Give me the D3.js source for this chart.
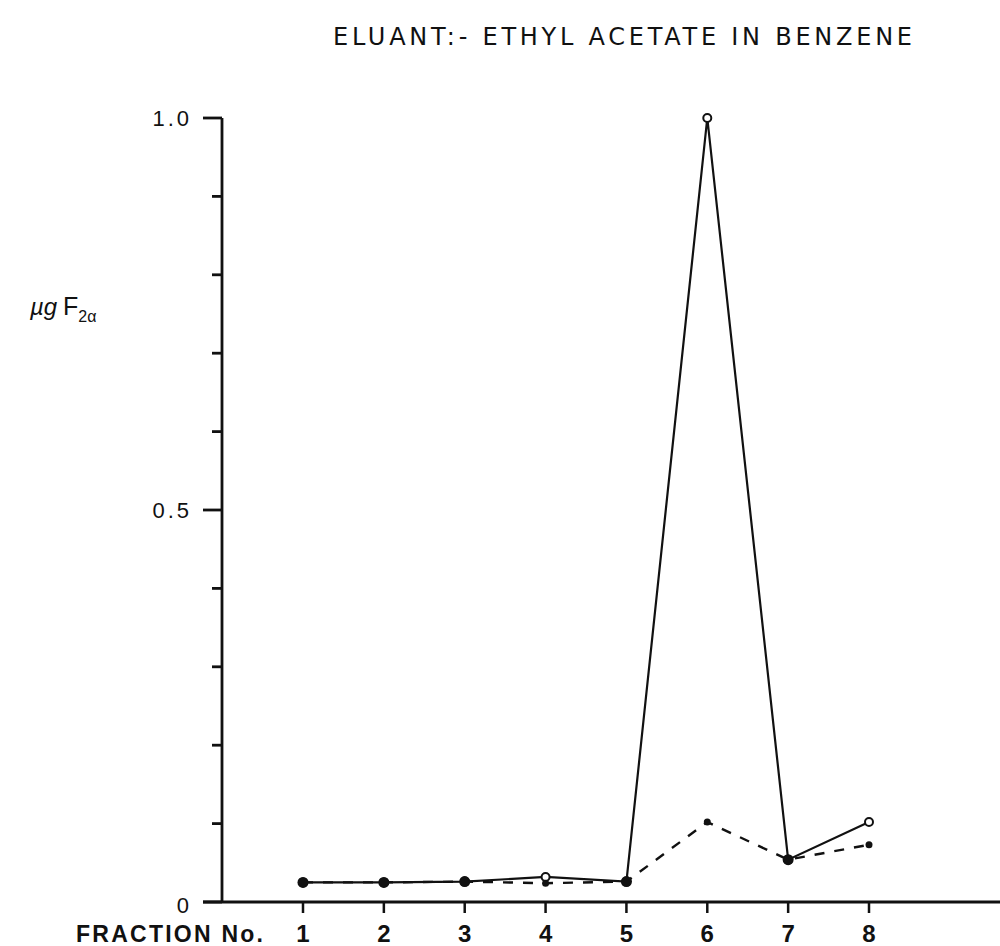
<!DOCTYPE html>
<meta charset="utf-8">
<html>
<head>
    <title>Eluant - Ethyl acetate in benzene</title>
    <script src="https://cdn.jsdelivr.net/npm/d3@7"></script>
</head>
<style>
    *{ margin:0; padding:0;}
    body{ background:#fff;}
    text{ font-family:'Liberation Sans', Arial, sans-serif; fill:#111;}
</style>
<body>
<div id="chartContainer"></div>
<script>
    // values
    var fractions = [1, 2, 3, 4, 5, 6, 7, 8];
    var solidSeries = [0.025, 0.025, 0.026, 0.032, 0.026, 1.0, 0.054, 0.102];
    var dashedSeries = [0.025, 0.025, 0.026, 0.024, 0.026, 0.102, 0.054, 0.073];
    var yTicks = [0, 0.1, 0.2, 0.3, 0.4, 0.5, 0.6, 0.7, 0.8, 0.9, 1.0];
    var yTickLabels = {0: "0", 0.5: "0.5", 1: "1.0"};

    var width = 1000, height = 946;
    var svg = d3.select("#chartContainer").append("svg")
        .attr("width", width).attr("height", height);

    var x = d3.scaleLinear().domain([1, 8]).range([303, 869]);
    var y = d3.scaleLinear().domain([0, 1]).range([902, 118]);
    var axisX = 222;

    // title
    svg.append("text")
        .attr("x", 333).attr("y", 45)
        .attr("textLength", 579).attr("lengthAdjust", "spacing")
        .style("font-family", "'DejaVu Sans', sans-serif")
        .style("font-size", "24px")
        .text("ELUANT:- ETHYL ACETATE IN BENZENE");

    // y axis
    svg.append("line")
        .attr("x1", axisX).attr("x2", axisX)
        .attr("y1", y(1)).attr("y2", y(0))
        .attr("stroke", "#111").attr("stroke-width", 2.8);

    svg.selectAll(".ytick").data(yTicks).enter().append("line")
        .attr("class", "ytick")
        .attr("x1", function (d) { return yTickLabels[d] ? axisX - 19 : axisX - 10; })
        .attr("x2", axisX)
        .attr("y1", function (d) { return y(d); })
        .attr("y2", function (d) { return y(d); })
        .attr("stroke", "#111").attr("stroke-width", 2.8);

    svg.selectAll(".ylabel").data(yTicks.filter(function (d) { return yTickLabels[d]; }))
        .enter().append("text")
        .attr("class", "ylabel")
        .attr("x", 192)
        .attr("y", function (d) { return y(d) + (d === 0 ? 11 : 8); })
        .attr("text-anchor", "end")
        .style("font-size", "22px")
        .style("letter-spacing", "3px")
        .text(function (d) { return yTickLabels[d]; });

    // y label  ug F2a
    var ylab = svg.append("text").attr("x", 30).attr("y", 315).style("font-size", "24px");
    ylab.append("tspan").style("font-style", "italic").text("\u00b5g");
    ylab.append("tspan").attr("x", 63).style("font-size", "25px").text("F");
    ylab.append("tspan").attr("dy", 7).style("font-size", "16px").text("2\u03b1");

    // x axis
    svg.append("line")
        .attr("x1", 203).attr("x2", 1000)
        .attr("y1", y(0)).attr("y2", y(0))
        .attr("stroke", "#111").attr("stroke-width", 2.8);

    svg.selectAll(".xtick").data(fractions).enter().append("line")
        .attr("class", "xtick")
        .attr("x1", function (d) { return x(d); })
        .attr("x2", function (d) { return x(d); })
        .attr("y1", y(0)).attr("y2", y(0) + 11)
        .attr("stroke", "#111").attr("stroke-width", 2.5);

    svg.selectAll(".xlabel").data(fractions).enter().append("text")
        .attr("class", "xlabel")
        .attr("x", function (d) { return x(d); })
        .attr("y", 942)
        .attr("text-anchor", "middle")
        .style("font-size", "24px")
        .style("font-weight", "bold")
        .text(function (d) { return d; });

    svg.append("text")
        .attr("x", 76).attr("y", 942)
        .attr("textLength", 187).attr("lengthAdjust", "spacing")
        .style("font-size", "23px")
        .style("font-weight", "bold")
        .text("FRACTION No.");

    // lines
    var line = d3.line()
        .x(function (d, i) { return x(fractions[i]); })
        .y(function (d) { return y(d); });

    svg.append("path").datum(dashedSeries)
        .attr("d", line)
        .attr("fill", "none")
        .attr("stroke", "#111").attr("stroke-width", 2.4)
        .attr("stroke-dasharray", "10,10");

    svg.append("path").datum(solidSeries)
        .attr("d", line)
        .attr("fill", "none")
        .attr("stroke", "#111").attr("stroke-width", 2.2);

    // markers
    svg.selectAll(".solidpt").data(solidSeries).enter().append("circle")
        .attr("class", "solidpt")
        .attr("cx", function (d, i) { return x(fractions[i]); })
        .attr("cy", function (d) { return y(d); })
        .attr("r", 4)
        .attr("fill", "#fff").attr("stroke", "#111").attr("stroke-width", 2);

    svg.selectAll(".dashpt").data(dashedSeries).enter().append("circle")
        .attr("class", "dashpt")
        .attr("cx", function (d, i) { return x(fractions[i]); })
        .attr("cy", function (d) { return y(d); })
        .attr("r", function (d, i) { return dashedSeries[i] === solidSeries[i] ? 5.5 : 3.5; })
        .attr("fill", "#111");
</script>
</body>
</html>
